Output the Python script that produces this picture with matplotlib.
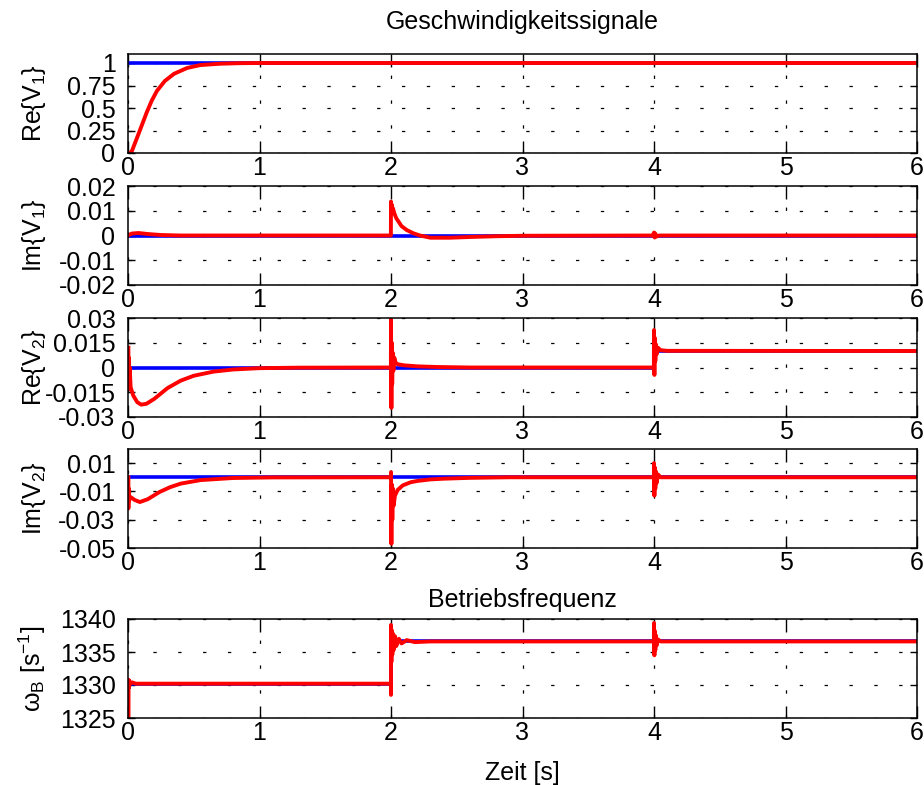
import matplotlib
matplotlib.use("Agg")
import matplotlib.pyplot as plt

plt.rcParams['font.family'] = ['Liberation Sans', 'DejaVu Sans']
plt.rcParams['mathtext.fontset'] = 'custom'
plt.rcParams['mathtext.rm'] = 'Liberation Sans'
plt.rcParams['mathtext.it'] = 'Liberation Sans'
plt.rcParams['axes.unicode_minus'] = False
plt.rcParams['lines.scale_dashes'] = False

# ---------------- data ----------------
x_ticks = [0, 1, 2, 3, 4, 5, 6]
x_ticklabels = ['0', '1', '2', '3', '4', '5', '6']

# Re{V1}
t_re1_ref = [0, 6]
re1_ref = [1.0, 1.0]
t_re1 = [0, 0.015, 0.028, 0.053, 0.09, 0.142, 0.18, 0.22, 0.28, 0.35, 0.45, 0.55, 0.7, 0.85, 1.0, 6.0]
re1 = [0, 0.003, 0.015, 0.11, 0.25, 0.45, 0.58, 0.69, 0.80, 0.88, 0.945, 0.977, 0.992, 0.998, 1.0, 1.0]
re1_ticks = [0, 0.25, 0.5, 0.75, 1]
re1_ticklabels = ['0', '0.25', '0.5', '0.75', '1']

# Im{V1}
t_im1_ref = [0, 6]
im1_ref = [0.0, 0.0]
t_im1 = [0, 0.03, 0.08, 0.15, 0.25, 0.4, 1.0, 1.999, 2.0, 2.003, 2.006, 2.01, 2.015, 2.025, 2.04, 2.08,
         2.12, 2.17, 2.22, 2.3, 2.45, 2.6, 2.8, 3.0, 3.99, 4.0, 4.005, 4.01, 4.02, 4.04, 6.0]
im1 = [0, 0.0008, 0.001, 0.0006, 0.0002, 0.0, 0.0, 0.0, 0.0137, 0.009, 0.0125, 0.0095, 0.011, 0.009, 0.007, 0.0038,
       0.0022, 0.0009, 0.0, -0.0009, -0.0009, -0.0006, -0.0003, -0.0001, 0, 0.0012, -0.0008, 0.0008, -0.0004, 0, 0]
im1_ticks = [-0.02, -0.01, 0, 0.01, 0.02]
im1_ticklabels = ['-0.02', '-0.01', '0', '0.01', '0.02']

# Re{V2}
t_re2_ref = [0, 4, 4, 6]
re2_ref = [0.0, 0.0, 0.01, 0.01]
t_re2 = [0.003, 0.003, 0.006, 0.009, 0.013, 0.02, 0.04, 0.07, 0.1, 0.14, 0.2, 0.3, 0.4, 0.5, 0.65, 0.8, 1.0, 1.3,
         1.999, 2.0, 2.003, 2.006, 2.009, 2.013, 2.018, 2.025, 2.035, 2.05, 2.1, 2.2, 2.35, 2.6, 3.0,
         3.999, 4.0, 4.003, 4.006, 4.01, 4.015, 4.02, 4.03, 4.05, 4.1, 6.0]
re2 = [0.012, -0.012, 0.006, -0.013, 0.0, -0.012, -0.017, -0.021, -0.0225, -0.022, -0.019, -0.0125, -0.008,
       -0.005, -0.0025, -0.0012, -0.0004, -0.0001,
       0, 0.0294, -0.0245, 0.015, -0.01, 0.009, -0.002, 0.006, 0.003, 0.002, 0.0013, 0.0007, 0.0003, 0.0, 0.0,
       0.0, 0.0227, -0.0045, 0.018, 0.004, 0.014, 0.008, 0.012, 0.0105, 0.0101, 0.01]
re2_ticks = [-0.03, -0.015, 0, 0.015, 0.03]
re2_ticklabels = ['-0.03', '-0.015', '0', '0.015', '0.03']

# Im{V2}
t_im2_ref = [0, 6]
im2_ref = [0.0, 0.0]
t_im2 = [0.003, 0.003, 0.006, 0.01, 0.02, 0.05, 0.09, 0.15, 0.24, 0.32, 0.40, 0.55, 0.8, 1.1,
         1.999, 2.0, 2.003, 2.006, 2.01, 2.015, 2.02, 2.03, 2.05, 2.09, 2.15, 2.2, 2.3, 2.4, 2.6, 2.9,
         3.999, 4.0, 4.003, 4.006, 4.01, 4.015, 4.02, 4.03, 4.05, 6.0]
im2 = [0.0, -0.022, -0.008, -0.016, -0.014, -0.016, -0.0175, -0.0155, -0.0104, -0.007, -0.0045, -0.002,
       -0.0005, -0.0001,
       0, 0.0037, -0.047, -0.005, -0.03, -0.008, -0.02, -0.013, -0.009, -0.0057, -0.0035, -0.0026, -0.0015,
       -0.001, -0.0004, 0,
       0, 0.01, -0.013, 0.007, -0.008, 0.004, -0.004, 0.002, 0.0, 0]
im2_ticks = [-0.05, -0.03, -0.01, 0.01]
im2_ticklabels = ['-0.05', '-0.03', '-0.01', '0.01']

# omega_B
t_w_ref = [0, 2, 2, 6]
w_ref = [1330.2, 1330.2, 1336.6, 1336.6]
t_w = [0.004, 0.004, 0.007, 0.01, 0.015, 0.03, 0.06,
       1.999, 2.0, 2.0, 2.003, 2.006, 2.01, 2.014, 2.02, 2.03, 2.04, 2.06, 2.08, 2.12, 2.18, 2.3,
       3.999, 4.0, 4.003, 4.006, 4.01, 4.015, 4.02, 4.03, 4.05, 6.0]
w = [1325, 1330.8, 1329.6, 1330.6, 1330.1, 1330.4, 1330.2,
     1330.2, 1328.5, 1339.1, 1333.5, 1338.3, 1334.6, 1337.8, 1335.3, 1337.4, 1335.9, 1337.0, 1336.3,
     1336.8, 1336.5, 1336.6,
     1336.6, 1339.4, 1334.5, 1338.2, 1335.3, 1337.5, 1336.0, 1336.9, 1336.6, 1336.6]
w_ticks = [1325, 1330, 1335, 1340]
w_ticklabels = ['1325', '1330', '1335', '1340']

# ---------------- figure ----------------
W, H = 924, 785
fig = plt.figure(figsize=(W / 100, H / 100), dpi=100)

left_px, right_px = 128, 917
panels = [
    (54, 153, t_re1_ref, re1_ref, t_re1, re1, (0, 1.1), re1_ticks, re1_ticklabels, 'Re{V$_1$}'),
    (186, 285, t_im1_ref, im1_ref, t_im1, im1, (-0.02, 0.02), im1_ticks, im1_ticklabels, 'Im{V$_1$}'),
    (318, 417, t_re2_ref, re2_ref, t_re2, re2, (-0.03, 0.03), re2_ticks, re2_ticklabels, 'Re{V$_2$}'),
    (449, 548, t_im2_ref, im2_ref, t_im2, im2, (-0.05, 0.02), im2_ticks, im2_ticklabels, 'Im{V$_2$}'),
    (619, 718, t_w_ref, w_ref, t_w, w, (1325, 1340), w_ticks, w_ticklabels, 'ω$_\\mathrm{B}$ [s$^{\\mathrm{-1}}$]'),
]

FS = 18
axes = []
for (top, bot, tr, vr, tt, vv, ylim, yt, ytl, ylab) in panels:
    ax = fig.add_axes([left_px / W, 1 - bot / H, (right_px - left_px) / W, (bot - top) / H])
    ax.plot(tr, vr, color='#0000ff', lw=2.6, solid_joinstyle='miter')
    ax.plot(tt, vv, color='#ff0000', lw=2.8)
    ax.set_xlim(0, 6)
    ax.set_ylim(*ylim)
    ax.set_xticks(x_ticks)
    ax.set_xticklabels(x_ticklabels)
    ax.set_yticks(yt)
    ax.set_yticklabels(ytl)
    ax.tick_params(axis='x', direction='in', top=True, length=9, width=1.0, labelsize=FS, pad=2)
    ax.tick_params(axis='y', direction='in', right=True, length=5, width=1.0, labelsize=FS, pad=9)
    for s in ax.spines.values():
        s.set_linewidth(1.1)
    ax.grid(True, color='black', lw=0.9, linestyle=(0, (2.4, 15.5)))
    ax.set_ylabel(ylab, fontsize=FS)
    ax.yaxis.set_label_coords(-0.101, 0.5)
    axes.append(ax)

axes[0].set_title('Geschwindigkeitssignale', fontsize=FS, pad=18)
axes[4].set_title('Betriebsfrequenz', fontsize=FS, pad=9)
axes[4].set_xlabel('Zeit [s]', fontsize=FS, labelpad=12)

fig.savefig('out.png', dpi=100)
